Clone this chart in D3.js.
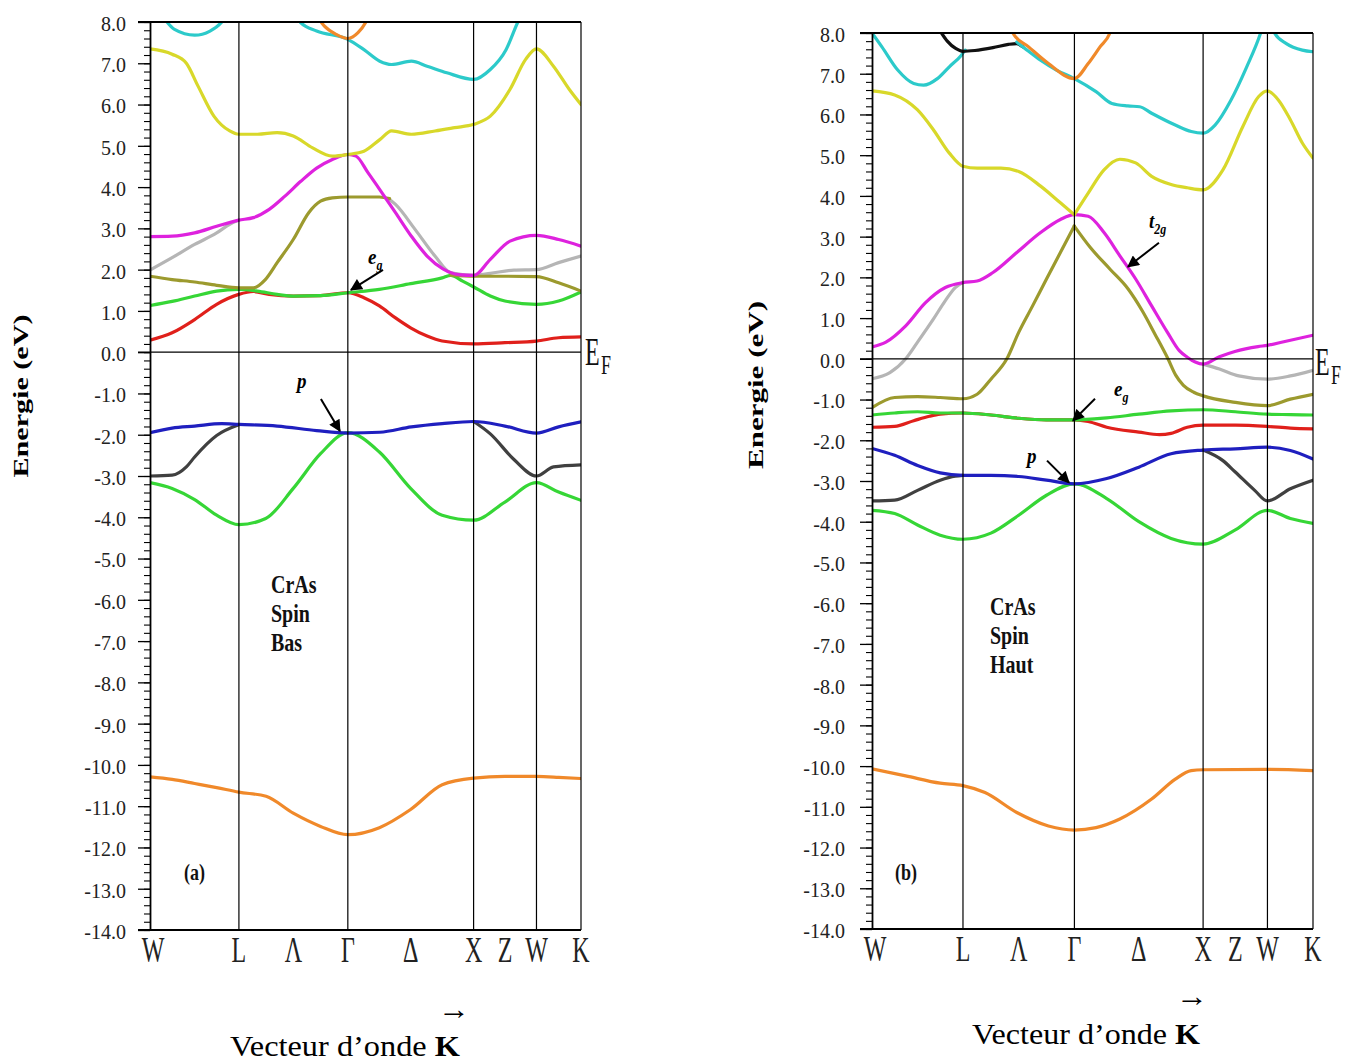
<!DOCTYPE html>
<html><head><meta charset="utf-8">
<script src="https://cdn.jsdelivr.net/npm/d3@7"></script>
<style>body{margin:0;background:#fff}svg{display:block}text{font-family:"Liberation Serif","Times New Roman",serif}</style>
</head><body>
<svg id="c" width="1361" height="1064"></svg>
<script>
// ---------- data ----------
const kPointLabels = ["W","L","Λ","Γ","Δ","X","Z","W","K"];
const kPointPos    = [0,0.707,1.140,1.573,2.073,2.573,2.823,3.073,3.427];
const kSymLines    = [0.707,1.573,2.573,3.073,3.427];
const energyTicks  = [8,7,6,5,4,3,2,1,0,-1,-2,-3,-4,-5,-6,-7,-8,-9,-10,-11,-12,-13,-14];

// spin down (a)
const dnOrangeLow = [[0,-10.29],[0.176,-10.35],[0.355,-10.45],[0.53,-10.55],[0.706,-10.66],[0.923,-10.76],[1.139,-11.17],[1.356,-11.49],[1.573,-11.69],[1.824,-11.52],[2.072,-11.08],[2.323,-10.48],[2.574,-10.32],[2.822,-10.28],[3.073,-10.28],[3.249,-10.3],[3.427,-10.33]];
const dnGreenLow  = [[0,-3.16],[0.176,-3.3],[0.355,-3.57],[0.53,-3.95],[0.706,-4.18],[0.92,-4.03],[1.139,-3.3],[1.356,-2.46],[1.573,-1.95],[1.824,-2.42],[2.072,-3.3],[2.323,-3.95],[2.574,-4.07],[2.822,-3.63],[3.073,-3.16],[3.249,-3.39],[3.427,-3.59]];
const dnDark      = [[0,-3.0],[0.176,-2.98],[0.289,-2.78],[0.355,-2.54],[0.53,-2.02],[0.706,-1.76],[1.0,null],[2.574,-1.68],[2.706,-1.98],[2.894,-2.6],[3.073,-3.0],[3.208,-2.78],[3.427,-2.73]];
const dnBlue      = [[0,-1.95],[0.176,-1.84],[0.355,-1.79],[0.571,-1.73],[0.706,-1.75],[1.011,-1.79],[1.325,-1.9],[1.573,-1.96],[1.827,-1.94],[2.078,-1.81],[2.323,-1.73],[2.574,-1.68],[2.822,-1.79],[3.073,-1.96],[3.249,-1.81],[3.427,-1.69]];
const dnRed       = [[0,0.29],[0.176,0.47],[0.355,0.79],[0.53,1.16],[0.706,1.40],[0.822,1.47],[0.948,1.40],[1.139,1.36],[1.356,1.37],[1.573,1.44],[1.701,1.32],[1.824,1.12],[1.952,0.83],[2.072,0.59],[2.203,0.39],[2.323,0.27],[2.574,0.2],[2.822,0.23],[3.073,0.27],[3.249,0.35],[3.427,0.37]];
const dnGreenUp   = [[0,1.13],[0.176,1.23],[0.355,1.36],[0.53,1.48],[0.706,1.52],[0.854,1.48],[1.011,1.40],[1.139,1.36],[1.356,1.37],[1.573,1.44],[1.824,1.52],[2.072,1.66],[2.323,1.80],[2.392,1.86],[2.486,1.72],[2.574,1.58],[2.706,1.36],[2.822,1.24],[3.073,1.16],[3.249,1.24],[3.427,1.46]];
const dnOlive     = [[0,1.84],[0.176,1.76],[0.355,1.70],[0.53,1.62],[0.706,1.56],[0.822,1.56],[0.917,1.76],[1.011,2.17],[1.139,2.73],[1.262,3.38],[1.356,3.66],[1.45,3.74],[1.573,3.76],[1.824,3.76],[1.905,3.72],[2.0,null],[2.392,1.86],[2.574,1.84],[2.822,1.84],[3.073,1.83],[3.249,1.68],[3.427,1.48]];
const dnGray      = [[0,1.99],[0.176,2.29],[0.355,2.61],[0.53,2.89],[0.634,3.1],[0.706,3.2],[1.0,null],[1.905,3.70],[1.952,3.58],[2.109,2.97],[2.266,2.33],[2.392,1.92],[2.574,1.86],[2.706,1.91],[2.894,1.99],[3.073,2.0],[3.249,2.17],[3.427,2.33]];
const dnMagenta   = [[0,2.80],[0.176,2.81],[0.355,2.89],[0.53,3.05],[0.706,3.2],[0.822,3.26],[0.948,3.46],[1.073,3.78],[1.199,4.14],[1.325,4.46],[1.45,4.67],[1.573,4.79],[1.638,4.75],[1.733,4.35],[1.827,3.94],[1.952,3.38],[2.078,2.81],[2.203,2.33],[2.329,2.02],[2.454,1.88],[2.574,1.86],[2.706,2.25],[2.863,2.69],[3.073,2.83],[3.249,2.73],[3.427,2.57]];
const dnYellow    = [[0,7.35],[0.176,7.22],[0.289,7.0],[0.383,6.44],[0.508,5.72],[0.634,5.36],[0.706,5.28],[0.854,5.28],[1.011,5.32],[1.139,5.24],[1.293,4.95],[1.45,4.75],[1.573,4.79],[1.701,4.87],[1.827,5.15],[1.921,5.36],[2.078,5.28],[2.266,5.36],[2.423,5.44],[2.574,5.52],[2.706,5.72],[2.863,6.37],[2.988,7.1],[3.073,7.35],[3.208,6.93],[3.333,6.37],[3.427,6.0]];
const dnCyanA     = [[0.1,8.14],[0.195,7.82],[0.355,7.68],[0.477,7.78],[0.571,8.0],[0.618,8.2]];
const dnCyanB     = [[1.136,8.2],[1.199,7.98],[1.325,7.78],[1.573,7.58],[1.701,7.33],[1.827,7.05],[1.921,6.97],[2.078,7.05],[2.203,6.93],[2.36,6.77],[2.574,6.61],[2.706,6.85],[2.831,7.33],[2.925,8.0],[2.957,8.2]];
const dnOrangeTop = [[1.325,8.15],[1.387,7.9],[1.481,7.7],[1.573,7.6],[1.654,7.74],[1.717,8.0],[1.748,8.19]];

// spin up (b)
const upOrangeLow = [[0,-10.07],[0.262,-10.24],[0.53,-10.42],[0.706,-10.48],[0.878,-10.65],[1.125,-11.14],[1.371,-11.47],[1.572,-11.57],[1.741,-11.51],[1.926,-11.3],[2.173,-10.81],[2.357,-10.32],[2.48,-10.11],[2.573,-10.09],[3.072,-10.08],[3.427,-10.11]];
const upGreenLow  = [[0,-3.72],[0.176,-3.8],[0.354,-4.08],[0.53,-4.33],[0.706,-4.43],[0.924,-4.28],[1.14,-3.84],[1.356,-3.35],[1.572,-3.07],[1.824,-3.43],[2.074,-4.0],[2.324,-4.41],[2.573,-4.55],[2.823,-4.2],[3.072,-3.72],[3.251,-3.92],[3.427,-4.04]];
const upDark      = [[0,-3.49],[0.176,-3.47],[0.354,-3.23],[0.53,-2.98],[0.647,-2.88],[0.706,-2.86],[1.0,null],[2.573,-2.24],[2.727,-2.5],[2.823,-2.78],[2.974,-3.23],[3.072,-3.49],[3.251,-3.19],[3.427,-2.98]];
const upBlue      = [[0,-2.2],[0.176,-2.37],[0.354,-2.62],[0.53,-2.8],[0.706,-2.86],[0.924,-2.86],[1.14,-2.89],[1.356,-2.98],[1.572,-3.07],[1.824,-2.94],[2.074,-2.66],[2.324,-2.33],[2.573,-2.24],[2.823,-2.21],[3.072,-2.17],[3.251,-2.25],[3.427,-2.46]];
const upRed       = [[0,-1.68],[0.176,-1.66],[0.324,-1.52],[0.447,-1.41],[0.53,-1.36],[0.706,-1.33],[0.924,-1.38],[1.14,-1.46],[1.356,-1.5],[1.572,-1.5],[1.68,-1.54],[1.824,-1.68],[2.074,-1.8],[2.234,-1.86],[2.324,-1.83],[2.45,-1.68],[2.573,-1.63],[2.823,-1.63],[3.072,-1.66],[3.251,-1.7],[3.427,-1.72]];
const upGreenUp   = [[0,-1.38],[0.176,-1.33],[0.354,-1.3],[0.53,-1.33],[0.706,-1.33],[0.924,-1.38],[1.14,-1.46],[1.356,-1.5],[1.572,-1.5],[1.824,-1.45],[2.074,-1.36],[2.324,-1.28],[2.573,-1.25],[2.823,-1.3],[3.072,-1.36],[3.251,-1.37],[3.427,-1.38]];
const upOliveA    = [[0,-1.2],[0.176,-0.95],[0.354,-0.93],[0.53,-0.95],[0.706,-0.98],[0.817,-0.87],[0.924,-0.5],[1.048,0.0],[1.14,0.65],[1.248,1.3],[1.356,1.96],[1.464,2.61],[1.572,3.26]];
const upOliveB    = [[1.572,3.26],[1.70,2.72],[1.85,2.2],[1.989,1.72],[2.10,1.18],[2.20,0.6],[2.30,0.0],[2.36,-0.4],[2.42,-0.65],[2.50,-0.82],[2.573,-0.91],[2.823,-1.07],[3.072,-1.15],[3.251,-0.99],[3.427,-0.87]];
const upGray      = [[0,-0.49],[0.139,-0.34],[0.262,0.0],[0.354,0.41],[0.478,0.98],[0.57,1.43],[0.647,1.75],[0.706,1.87],[1.0,null],[2.573,-0.13],[2.70,-0.25],[2.85,-0.42],[3.072,-0.5],[3.251,-0.42],[3.427,-0.28]];
const upMagenta   = [[0,0.29],[0.108,0.41],[0.262,0.81],[0.416,1.38],[0.57,1.75],[0.706,1.87],[0.817,1.91],[0.94,2.12],[1.125,2.61],[1.31,3.1],[1.464,3.42],[1.572,3.54],[1.68,3.5],[1.803,3.1],[1.926,2.53],[2.049,1.96],[2.173,1.3],[2.296,0.65],[2.388,0.2],[2.45,0.04],[2.512,-0.08],[2.573,-0.13],[2.70,0.05],[2.82,0.18],[3.0,0.3],[3.072,0.33],[3.2,0.42],[3.427,0.58]];
const upYellowA   = [[0,6.58],[0.176,6.48],[0.354,6.11],[0.478,5.62],[0.601,5.05],[0.706,4.73],[0.817,4.68],[1.002,4.68],[1.14,4.6],[1.31,4.24],[1.464,3.83],[1.572,3.54]];
const upYellowB   = [[1.572,3.54],[1.68,4.07],[1.803,4.64],[1.926,4.9],[2.049,4.81],[2.173,4.48],[2.324,4.28],[2.45,4.2],[2.573,4.15],[2.727,4.64],[2.881,5.7],[3.005,6.44],[3.072,6.58],[3.159,6.35],[3.251,5.87],[3.344,5.3],[3.427,4.93]];
const upCyanA     = [[0,8.0],[0.077,7.66],[0.2,7.09],[0.324,6.76],[0.401,6.72],[0.508,6.88],[0.601,7.17],[0.693,7.45],[0.724,7.58]];
const upBlack     = [[0.54,8.0],[0.585,7.8],[0.65,7.62],[0.706,7.55],[0.8,7.57],[0.94,7.64],[1.06,7.72],[1.125,7.74],[1.171,7.66]];
const upCyanB     = [[1.125,7.78],[1.217,7.55],[1.31,7.33],[1.433,7.09],[1.572,6.88],[1.741,6.56],[1.864,6.27],[1.988,6.21],[2.08,6.19],[2.173,6.03],[2.357,5.74],[2.481,5.58],[2.573,5.54],[2.666,5.74],[2.789,6.35],[2.912,7.17],[3.02,8.0],[3.05,8.3]];
const upCyanC     = [[3.1,8.3],[3.128,8.0],[3.22,7.74],[3.344,7.58],[3.427,7.54]];
const upOrangeTop = [[1.06,8.3],[1.094,8.0],[1.217,7.66],[1.371,7.25],[1.572,6.88],[1.68,7.25],[1.772,7.66],[1.849,8.0],[1.88,8.3]];

const col = {red:"#e0201b",green:"#36d636",olive:"#9c9a2e",gray:"#b5b5b5",magenta:"#de22de",
  yellow:"#d8d82a",cyan:"#2ccaca",orange:"#f0892a",blue:"#1f1fbf",dark:"#404040",black:"#111111"};

const panels = [
  {id:"a", x0:150, x1:581, yTop:22, yBot:930, labelGap:12,
   bands:[[dnOrangeLow,"orange"],[dnGreenLow,"green"],[dnDark,"dark"],[dnBlue,"blue"],[dnRed,"red"],[dnGreenUp,"green"],
          [dnGray,"gray"],[dnOlive,"olive"],[dnMagenta,"magenta"],[dnYellow,"yellow"],[dnCyanA,"cyan"],[dnCyanB,"cyan"],[dnOrangeTop,"orange"]],
   spin:["CrAs","Spin","Bas"], spinAt:[271,593], tag:"(a)", tagAt:[184,880], ef:[585,365], yTitle:[21,396,163], xTitle:[230,1056,230], arrowK:[454,1008],
   notes:[{t:"e",s:"g",k:1.598,e:1.51,dx:32,dy:-20,lx:368,ly:264},{t:"p",s:"",k:1.51,e:-1.91,dx:-19,dy:-32,lx:297,ly:388}]},
  {id:"b", x0:872, x1:1313, yTop:33, yBot:929, labelGap:15,
   bands:[[upOrangeLow,"orange"],[upGreenLow,"green"],[upDark,"dark"],[upBlue,"blue"],[upRed,"red"],[upGreenUp,"green"],
          [upGray,"gray"],[upOliveA,"olive"],[upOliveB,"olive"],[upMagenta,"magenta"],[upYellowA,"yellow"],[upYellowB,"yellow"],
          [upCyanA,"cyan"],[upBlack,"black"],[upCyanB,"cyan"],[upCyanC,"cyan"],[upOrangeTop,"orange"]],
   spin:["CrAs","Spin","Haut"], spinAt:[990,615], tag:"(b)", tagAt:[895,880], ef:[1315,375], yTitle:[756,385,168], xTitle:[972,1044,228], arrowK:[1192,995],
   notes:[{t:"t",s:"2g",k:1.989,e:2.26,dx:31,dy:-24,lx:1149,ly:228},{t:"e",s:"g",k:1.562,e:-1.52,dx:22,dy:-22,lx:1114,ly:396},{t:"p",s:"",k:1.531,e:-3.04,dx:-22,dy:-22,lx:1027,ly:463}]}
];

// ---------- drawing ----------
const svg = d3.select("#c");
const defs = svg.append("defs");
defs.append("marker").attr("id","ah").attr("viewBox","0 0 10 10").attr("refX",9).attr("refY",5)
  .attr("markerWidth",7).attr("markerHeight",6).attr("orient","auto").attr("markerUnits","strokeWidth")
  .append("path").attr("d","M0,0 L10,5 L0,10 Z").attr("fill","#000");

function stretched(g, x, y, sy, txt, attrs){
  const t = g.append("g").attr("transform",`translate(${x},${y}) scale(1,${sy})`).append("text");
  t.text(txt); Object.entries(attrs||{}).forEach(([k,v])=>t.attr(k,v)); return t;
}

panels.forEach(p=>{
  const x = d3.scaleLinear().domain([0,3.427]).range([p.x0,p.x1]);
  const y = d3.scaleLinear().domain([8,-14]).range([p.yTop,p.yBot]);
  const g = svg.append("g");

  defs.append("clipPath").attr("id","clip"+p.id).append("rect")
    .attr("x",p.x0).attr("y",p.yTop).attr("width",p.x1-p.x0).attr("height",p.yBot-p.yTop);

  // bands
  const line = d3.line().defined(d=>d[1]!==null).x(d=>x(d[0])).y(d=>y(d[1])).curve(d3.curveMonotoneX);
  const bg = g.append("g").attr("clip-path",`url(#clip${p.id})`);
  p.bands.forEach(([pts,c])=>{
    bg.append("path").attr("d",line(pts)).attr("fill","none").attr("stroke",col[c])
      .attr("stroke-width",3.2).attr("stroke-linecap","round").attr("stroke-linejoin","round");
  });

  // frame: symmetry lines, top/bottom, zero line
  g.selectAll(".sym").data(kSymLines).join("line")
    .attr("x1",d=>x(d)).attr("x2",d=>x(d)).attr("y1",y(8)).attr("y2",y(-14))
    .attr("stroke","#000").attr("stroke-width",1.2);
  [8,-14,0].forEach(v=>{
    g.append("line").attr("x1",p.x0-12).attr("x2",p.x1).attr("y1",y(v)).attr("y2",y(v))
      .attr("stroke","#000").attr("stroke-width",v===0?1.3:1.8);
  });

  // y axis
  const minor = d3.range(-14,8.001,0.2).map(v=>+v.toFixed(1));
  g.append("g").attr("transform",`translate(${p.x0},0)`)
    .call(d3.axisLeft(y).tickValues(minor).tickSize(6).tickFormat("").tickSizeOuter(0))
    .call(a=>a.select(".domain").attr("stroke-width",1.8))
    .call(a=>a.selectAll(".tick line").attr("stroke-width",1.1));
  g.append("g").attr("transform",`translate(${p.x0},0)`)
    .call(d3.axisLeft(y).tickValues(energyTicks).tickSize(12).tickPadding(p.labelGap).tickFormat(d=>d.toFixed(1)).tickSizeOuter(0))
    .call(a=>a.select(".domain").remove())
    .call(a=>a.selectAll(".tick line").attr("stroke-width",1.3))
    .call(a=>a.selectAll(".tick text").attr("font-family","Liberation Serif").attr("font-size",20).attr("fill","#222").attr("dy","0.42em"));

  // k-point labels
  kPointLabels.forEach((lab,i)=>{
    stretched(g, x(kPointPos[i]) + (i===0?3:0), p.yBot+32, 1.45, lab,
      {"text-anchor":"middle","font-size":24,"fill":"#222"});
  });

  // E_F
  stretched(g, p.ef[0], p.ef[1], 1.7, "E", {"font-size":24,"fill":"#111"});
  stretched(g, p.ef[0]+16, p.ef[1]+9, 1.5, "F", {"font-size":18,"fill":"#111"});

  // axis titles
  g.append("text").attr("transform",`translate(${p.yTitle[0]},${p.yTitle[1]}) rotate(-90)`)
    .attr("text-anchor","middle").attr("dominant-baseline","central").attr("font-weight","bold").attr("font-size",21)
    .attr("textLength",p.yTitle[2]).attr("lengthAdjust","spacingAndGlyphs").text("Energie (eV)");
  const xt = g.append("text").attr("x",p.xTitle[0]).attr("y",p.xTitle[1]).attr("font-size",29)
    .attr("textLength",p.xTitle[2]).attr("lengthAdjust","spacingAndGlyphs");
  xt.append("tspan").text("Vecteur d’onde ");
  xt.append("tspan").attr("font-weight","bold").text("K");
  g.append("text").attr("x",p.arrowK[0]).attr("y",p.arrowK[1]).attr("text-anchor","middle").attr("dominant-baseline","central")
    .attr("font-size",30).attr("font-family","DejaVu Serif").attr("textLength",32).attr("lengthAdjust","spacingAndGlyphs").text("→");

  // labels
  p.spin.forEach((s,i)=>stretched(g, p.spinAt[0], p.spinAt[1]+i*29, 1.3, s, {"font-size":20,"font-weight":"bold","fill":"#111"}));
  stretched(g, p.tagAt[0], p.tagAt[1], 1.3, p.tag, {"font-size":18,"font-weight":"bold","fill":"#111"});

  // annotations
  p.notes.forEach(n=>{
    const tx = x(n.k), ty = y(n.e);
    g.append("line").attr("x1",tx+n.dx).attr("y1",ty+n.dy).attr("x2",tx).attr("y2",ty)
      .attr("stroke","#000").attr("stroke-width",2).attr("marker-end","url(#ah)");
    const t = stretched(g, n.lx, n.ly, 1.15, "", {"font-size":19,"font-style":"italic","font-weight":"bold"});
    t.append("tspan").text(n.t);
    if(n.s) t.append("tspan").attr("dy",5).attr("font-size",12).text(n.s);
  });
});
</script>
</body></html>
